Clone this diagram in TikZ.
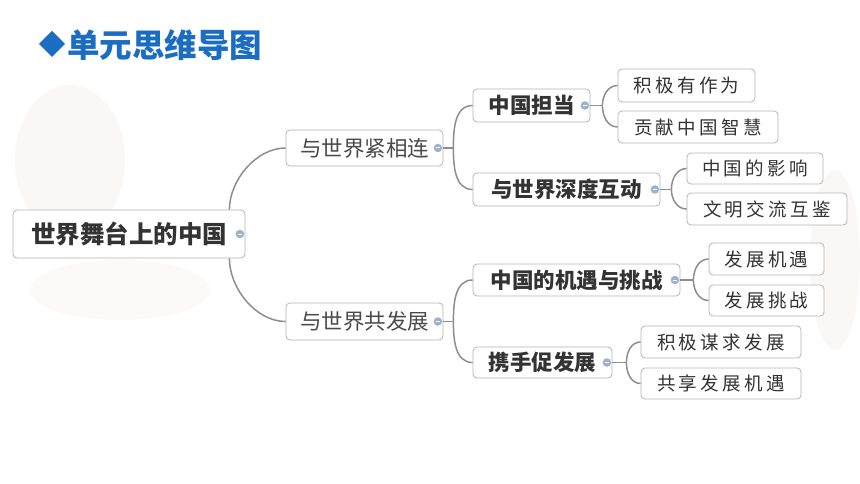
\documentclass[tikz,border=0pt]{standalone}
\usepackage{fontspec}
\setmainfont{Noto Sans CJK SC}
\newfontfamily\levthree[LetterSpace=18]{Noto Sans CJK SC}
\usetikzlibrary{calc}
\definecolor{titleblue}{HTML}{1B6DC1}
\definecolor{boxline}{HTML}{B4B4B4}
\definecolor{linkgray}{HTML}{8E8E8E}
\definecolor{textdark}{HTML}{333333}
\definecolor{textmid}{HTML}{4A4A4A}
\definecolor{dotblue}{HTML}{9DB1CD}
\definecolor{smudge}{HTML}{EEE9E5}
\tikzset{
  box/.style={draw=boxline, line width=0.8pt, rounded corners=4pt, fill=white, inner sep=0pt, anchor=center},
  rootbox/.style={box, font=\fontsize{24.5}{25}\selectfont\bfseries, text=textdark},
  onebox/.style={box, font=\fontsize{21.5}{22}\selectfont, text=textmid},
  twobox/.style={box, font=\fontsize{21.5}{22}\selectfont\bfseries, text=textdark},
  threebox/.style={box, font=\fontsize{18.5}{19}\selectfont\levthree, text=textdark},
  link/.style={draw=linkgray, line width=1.5pt},
  fold/.style={circle, fill=dotblue, minimum size=8.5pt, inner sep=0pt},
}
\newcommand{\foldmark}[2]{%
  \node[fold] (#2) at ($(#1.east)+(-5.5,0)$) {};
  \draw[white, line width=1pt] ($(#2)+(-2.4,0)$) -- ($(#2)+(2.4,0)$);}
\begin{document}
\begin{tikzpicture}[x=1pt,y=-1pt]
\useasboundingbox (0,0) rectangle (860,484);
\fill[white] (0,0) rectangle (860,484);
% faint background smudges
\fill[smudge, opacity=0.3] (70,160) ellipse (55 and 75);
\fill[smudge, opacity=0.2] (120,290) ellipse (90 and 30);
\fill[smudge, opacity=0.3] (835,260) ellipse (25 and 90);
% title
\fill[titleblue] (52,31) -- (65,44) -- (52,57) -- (39,44) -- cycle;
\node[anchor=west, inner sep=0pt, text=titleblue, font=\fontsize{32.5}{33}\selectfont\bfseries] (title) at (67,45) {单元思维导图};
% nodes
\node[rootbox, minimum width=232pt, minimum height=48pt] (root) at (129,234) {世界舞台上的中国};
\node[onebox, minimum width=157pt, minimum height=36pt] (a) at (364.5,148) {与世界紧相连};
\node[onebox, minimum width=157pt, minimum height=37pt] (b) at (364.5,321.5) {与世界共发展};
\node[twobox, minimum width=117pt, minimum height=33pt] (a1) at (531.5,105.5) {中国担当};
\node[twobox, minimum width=187pt, minimum height=33pt] (a2) at (566.5,189.5) {与世界深度互动};
\node[twobox, minimum width=207pt, minimum height=32pt] (b1) at (576.5,280) {中国的机遇与挑战};
\node[twobox, minimum width=139pt, minimum height=31pt] (b2) at (542.5,362.5) {携手促发展};
\node[threebox, minimum width=137pt, minimum height=33pt] (a11) at (686.5,85.5) {积极有作为};
\node[threebox, minimum width=160pt, minimum height=32pt] (a12) at (698,127) {贡献中国智慧};
\node[threebox, minimum width=136pt, minimum height=31pt] (a21) at (755,168.5) {中国的影响};
\node[threebox, minimum width=160pt, minimum height=32pt] (a22) at (767,209) {文明交流互鉴};
\node[threebox, minimum width=115pt, minimum height=32pt] (b11) at (766.5,259) {发展机遇};
\node[threebox, minimum width=115pt, minimum height=31pt] (b12) at (766.5,300.5) {发展挑战};
\node[threebox, minimum width=160pt, minimum height=32pt] (b21) at (721,342) {积极谋求发展};
\node[threebox, minimum width=160pt, minimum height=31pt] (b22) at (721,383.5) {共享发展机遇};
% junction points
\coordinate (ra) at ($(root.north east)+(-16,0)$);
\coordinate (rb) at ($(root.south east)+(-16,0)$);
\coordinate (ja) at ($(a.east)+(10,0)$);
\coordinate (jb) at ($(b.east)+(10,0)$);
\coordinate (ja1) at ($(a1.east)+(12,0)$);
\coordinate (ja2) at ($(a2.east)+(11,0)$);
\coordinate (jb1) at ($(b1.east)+(13,0)$);
\coordinate (jb2) at ($(b2.east)+(14,0)$);
% connectors
\draw[link] (ra) to[out=90, in=180, looseness=0.9] (a.west);
\draw[link] (rb) to[out=-90, in=180, looseness=0.9] (b.west);
\draw[link] (a.east) -- (ja);
\draw[link] (ja) to[out=90, in=180] (a1.west);
\draw[link] (ja) to[out=-90, in=180] (a2.west);
\draw[link] (b.east) -- (jb);
\draw[link] (jb) to[out=90, in=180] (b1.west);
\draw[link] (jb) to[out=-90, in=180] (b2.west);
\draw[link] (a1.east) -- (ja1);
\draw[link] (ja1) to[out=90, in=180] (a11.west);
\draw[link] (ja1) to[out=-90, in=180] (a12.west);
\draw[link] (a2.east) -- (ja2);
\draw[link] (ja2) to[out=90, in=180] (a21.west);
\draw[link] (ja2) to[out=-90, in=180] (a22.west);
\draw[link] (b1.east) -- (jb1);
\draw[link] (jb1) to[out=90, in=180] (b11.west);
\draw[link] (jb1) to[out=-90, in=180] (b12.west);
\draw[link] (b2.east) -- (jb2);
\draw[link] (jb2) to[out=90, in=180] (b21.west);
\draw[link] (jb2) to[out=-90, in=180] (b22.west);
% fold markers
\foldmark{root}{froot}
\foldmark{a}{fa}
\foldmark{b}{fb}
\foldmark{a1}{fa1}
\foldmark{a2}{fa2}
\foldmark{b1}{fb1}
\foldmark{b2}{fb2}
\end{tikzpicture}
\end{document}
